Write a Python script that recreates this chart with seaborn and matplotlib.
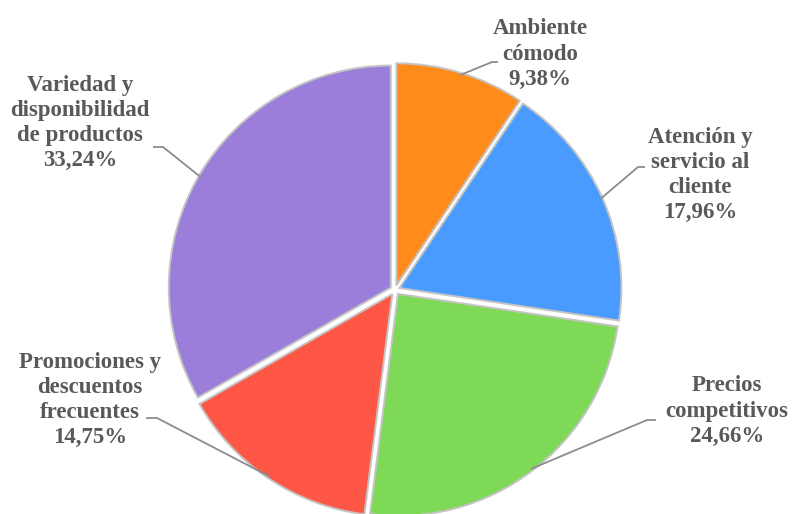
import numpy as np
import matplotlib
matplotlib.use("Agg")
import matplotlib.pyplot as plt
import seaborn as sns

# Survey result: reasons customers prefer the store
categories = ["Ambiente\ncómodo", "Atención y\nservicio al\ncliente", "Precios\ncompetitivos",
              "Promociones y\ndescuentos\nfrecuentes", "Variedad y\ndisponibilidad\nde productos"]
shares = [9.38, 17.96, 24.66, 14.75, 33.24]
slice_colors = ["#FF8C1A", "#4A9BFF", "#7ED957", "#FF5745", "#9A7ED9"]

sns.set_theme(style="white")
plt.rcParams["font.family"] = ["Liberation Serif", "DejaVu Serif"]

W, H = 792, 514
CX, CY, R = 395, 290, 222


def px(x, y):
    """Pixel position on the canvas -> data units (pie radius = 1)."""
    return (x - CX) / R, (CY - y) / R


fig = plt.figure(figsize=(W / 100, H / 100), dpi=100)
ax = fig.add_axes([0, 0, 1, 1])

explode = 0.022
wedges, _ = ax.pie(shares, colors=sns.color_palette(slice_colors), startangle=90,
                   counterclock=False, radius=1.0, explode=[explode] * len(shares),
                   wedgeprops=dict(edgecolor="#C4C4C4", linewidth=1.4))

ax.set_xlim(-CX / R, (W - CX) / R)
ax.set_ylim(-(H - CY) / R, CY / R)
ax.set_aspect("equal")
ax.axis("off")

# label text centres and leader elbows, in pixels
label_pos = [(540, 54), (700, 175), (727, 411), (90, 400), (80, 123)]
elbows = [((492, 62), (498, 62)), ((638, 167), (645, 167)), ((647, 420), (656, 420)),
          ((157, 418), (146, 418)), ((163, 147), (153, 147))]

text_color = "#595959"
for w, cat, val, (lx, ly), (e1, e2) in zip(wedges, categories, shares, label_pos, elbows):
    mid = np.deg2rad((w.theta1 + w.theta2) / 2)
    cx0, cy0 = w.center
    anchor = (cx0 + 0.99 * np.cos(mid), cy0 + 0.99 * np.sin(mid))
    p1, p2 = px(*e1), px(*e2)
    ax.plot([anchor[0], p1[0], p2[0]], [anchor[1], p1[1], p2[1]],
            color="#8C8C8C", lw=1.3, solid_capstyle="butt", zorder=3)
    label = f"{cat}\n{val:.2f}%".replace(".", ",")
    tx, ty = px(lx, ly)
    ax.text(tx, ty, label, ha="center", va="center", fontsize=16.5, fontweight="bold",
            color=text_color, linespacing=1.26, zorder=4)

fig.savefig("out.png", dpi=100, facecolor="white")
